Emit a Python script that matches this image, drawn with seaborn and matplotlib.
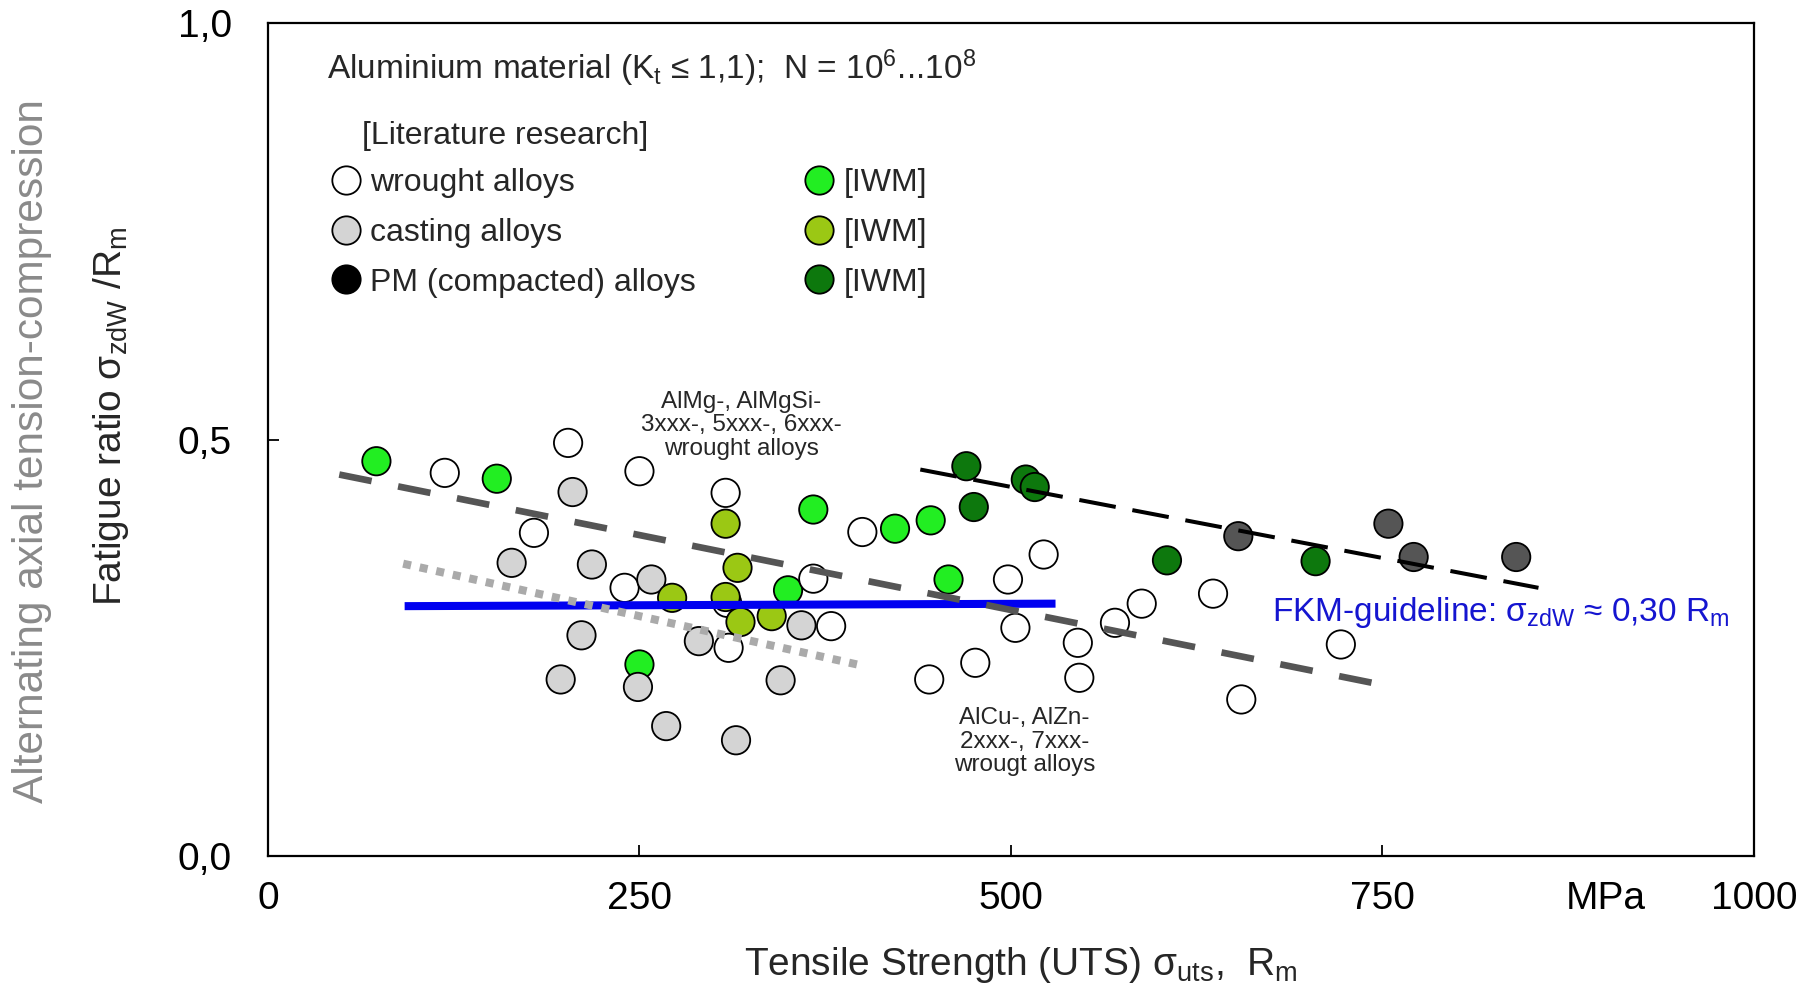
import pandas as pd
import matplotlib
matplotlib.use("Agg")
import matplotlib.pyplot as plt
from matplotlib.lines import Line2D
import seaborn as sns

# Tensile strength Rm [MPa] and fatigue ratio sigma_zdW / Rm
wrought_rm = [119, 202, 250, 308, 179, 240, 367, 379, 310, 309, 400, 522, 498,
              503, 476, 445, 545, 546, 570, 588, 636, 655, 722]
wrought_ratio = [0.460, 0.496, 0.462, 0.436, 0.388, 0.322, 0.333, 0.276, 0.250,
                 0.304, 0.389, 0.362, 0.332, 0.274, 0.232, 0.212, 0.256, 0.214,
                 0.280, 0.303, 0.315, 0.188, 0.254]

casting_rm = [205, 164, 218, 258, 211, 197, 249, 268, 315, 290, 359, 345]
casting_ratio = [0.437, 0.352, 0.350, 0.332, 0.265, 0.212, 0.203, 0.156, 0.139,
                 0.258, 0.277, 0.211]

pm_rm = [653, 754, 771, 840]
pm_ratio = [0.384, 0.399, 0.359, 0.359]

iwm_green_rm = [73, 154, 367, 350, 250, 422, 446, 458]
iwm_green_ratio = [0.474, 0.453, 0.416, 0.319, 0.230, 0.393, 0.403, 0.332]

iwm_olive_rm = [308, 316, 272, 308, 318, 339]
iwm_olive_ratio = [0.399, 0.346, 0.310, 0.311, 0.281, 0.288]

iwm_dark_rm = [470, 510, 516, 475, 605, 705]
iwm_dark_ratio = [0.468, 0.452, 0.443, 0.419, 0.355, 0.354]

# trend lines (end points)
trend_wrought_rm = [48, 743]
trend_wrought_ratio = [0.458, 0.208]
trend_casting_rm = [91, 399]
trend_casting_ratio = [0.351, 0.229]
trend_pm_rm = [439, 855]
trend_pm_ratio = [0.464, 0.322]
fkm_rm = [92, 530]
fkm_ratio = [0.300, 0.303]

x_ticks = [0, 250, 500, 750, 900, 1000]
x_tick_labels = ["0", "250", "500", "750", "MPa", "1000"]
y_ticks = [0.0, 0.5, 1.0]
y_tick_labels = ["0,0", "0,5", "1,0"]

groups = {
    "iwm_green": (iwm_green_rm, iwm_green_ratio),
    "wrought": (wrought_rm, wrought_ratio),
    "casting": (casting_rm, casting_ratio),
    "iwm_olive": (iwm_olive_rm, iwm_olive_ratio),
    "iwm_dark": (iwm_dark_rm, iwm_dark_ratio),
    "pm": (pm_rm, pm_ratio),
}
colors = {
    "wrought": "white",
    "casting": "#d4d4d4",
    "pm": "#555555",
    "iwm_green": "#22ee22",
    "iwm_olive": "#9bc814",
    "iwm_dark": "#0d780d",
}

rows = []
for name, (xs, ys) in groups.items():
    for x, y in zip(xs, ys):
        rows.append({"Rm": x, "ratio": y, "group": name})
df = pd.DataFrame(rows)

sns.set_style("ticks")
plt.rcParams["font.family"] = ["Liberation Sans", "DejaVu Sans"]
plt.rcParams["mathtext.fontset"] = "custom"
plt.rcParams["mathtext.rm"] = "Liberation Sans"
plt.rcParams["mathtext.it"] = "Liberation Sans:italic"
plt.rcParams["mathtext.bf"] = "Liberation Sans:bold"

fig = plt.figure(figsize=(18.14, 9.86), dpi=100)
ax = fig.add_axes([0.1477, 0.1318, 0.8192, 0.8448])

marker_size = 20.4
sns.scatterplot(data=df, x="Rm", y="ratio", hue="group", palette=colors,
                s=marker_size ** 2, edgecolor="black", linewidth=1.3,
                legend=False, ax=ax, zorder=2)

# trend lines drawn above the points
ax.plot(fkm_rm, fkm_ratio, color="#0000f0", lw=5.8, solid_capstyle="butt", zorder=3)
ax.plot(trend_casting_rm, trend_casting_ratio, color="#aaaaaa", lw=5.8,
        linestyle=(0, (1.0, 1.1)), dash_capstyle="butt", zorder=4)
ax.plot(trend_wrought_rm, trend_wrought_ratio, color="#555555", lw=4.8,
        linestyle=(0, (4.95, 4.05)), dash_capstyle="butt", zorder=4)
ax.plot(trend_pm_rm, trend_pm_ratio, color="black", lw=2.9,
        linestyle=(0, (9.2, 4.2)), dash_capstyle="butt", zorder=4)

ax.set_xlim(0, 1000)
ax.set_ylim(0, 1)
ax.set_xticks(x_ticks)
ax.set_xticklabels(x_tick_labels)
ax.set_yticks(y_ticks)
ax.set_yticklabels(y_tick_labels)
ax.tick_params(axis="both", direction="in", length=8, width=1.3,
               labelsize=28, colors="black")
ax.tick_params(axis="x", pad=18)
ax.tick_params(axis="y", pad=26)
ax.xaxis.get_major_ticks()[4].tick1line.set_visible(False)
ax.set_xlabel("")
ax.set_ylabel("")
for sp in ax.spines.values():
    sp.set_linewidth(1.6)
    sp.set_color("black")

# legend
def handle(face):
    return Line2D([], [], marker="o", linestyle="", markersize=marker_size,
                  markerfacecolor=face, markeredgecolor="black",
                  markeredgewidth=1.3)

handles = [handle("white"), handle(colors["casting"]), handle("black"),
           handle(colors["iwm_green"]), handle(colors["iwm_olive"]),
           handle(colors["iwm_dark"])]
labels = ["wrought alloys", "casting alloys", "PM (compacted) alloys",
          "[IWM]", "[IWM]", "[IWM]"]
ax.legend(handles, labels, ncol=2, frameon=False, fontsize=23,
          loc="upper left", bbox_to_anchor=(0.0437, 0.826),
          borderpad=0, borderaxespad=0, handlelength=0.8,
          handletextpad=0.36, columnspacing=3.47, labelspacing=0.62)

ax.text(39.7, 0.933, "Aluminium material (K$_\\mathrm{t}$ ≤ 1,1);  N = 10$^\\mathrm{6}$...10$^\\mathrm{8}$",
        fontsize=24, ha="left", va="baseline")
ax.text(63, 0.855, "[Literature research]", fontsize=23, ha="left", va="baseline")
ax.text(318.5, 0.517, "AlMg-, AlMgSi-\n3xxx-, 5xxx-, 6xxx-\nwrought alloys",
        fontsize=17.5, ha="center", va="center", linespacing=1.1)
ax.text(509, 0.1375, "AlCu-, AlZn-\n2xxx-, 7xxx-\nwrougt alloys",
        fontsize=17.5, ha="center", va="center", linespacing=1.1)
ax.text(676, 0.282, "FKM-guideline: σ$_\\mathrm{zdW}$ ≈ 0,30 R$_\\mathrm{m}$",
        fontsize=24, color="#1515d0", ha="left", va="baseline")

fig.text(0.563, 0.0112, "Tensile Strength (UTS) σ$_\\mathrm{uts}$,  R$_\\mathrm{m}$",
         fontsize=28, ha="center", va="baseline")
fig.text(0.0612, 0.578, "Fatigue ratio σ$_\\mathrm{zdW}$ /R$_\\mathrm{m}$",
         fontsize=28, rotation=90, ha="center", va="center")
fig.text(0.0178, 0.5426, "Alternating axial tension-compression",
         fontsize=30.5, color="#8a8a8a", rotation=90, ha="center", va="center")

fig.savefig("out.png", dpi=100)
